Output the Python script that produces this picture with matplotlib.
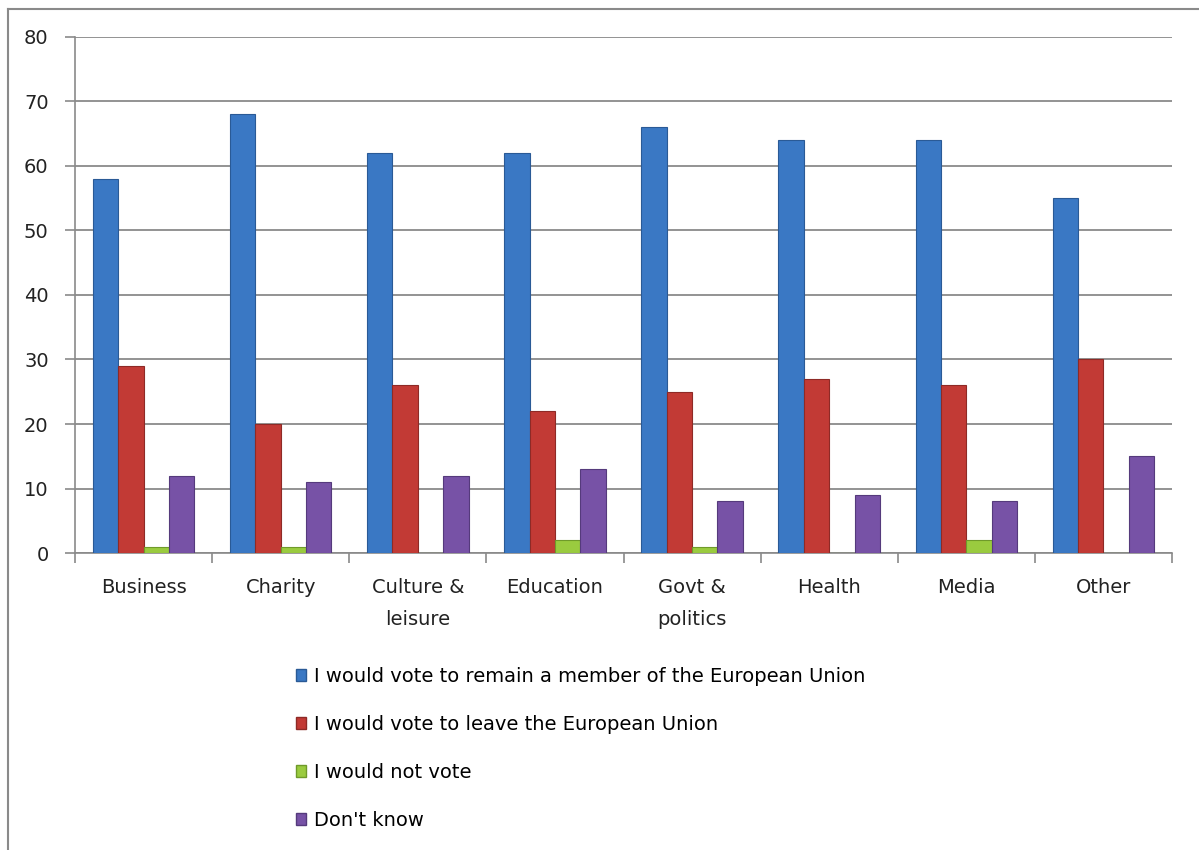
import numpy as np
import matplotlib
matplotlib.use("Agg")
import matplotlib.pyplot as plt
from matplotlib.patches import Patch
from matplotlib.lines import Line2D

plt.rcParams['font.family'] = ['DejaVu Sans']

categories = ["Business", "Charity", "Culture &\nleisure", "Education",
              "Govt &\npolitics", "Health", "Media", "Other"]
remain = [58, 68, 62, 62, 66, 64, 64, 55]
leave = [29, 20, 26, 22, 25, 27, 26, 30]
not_vote = [1, 1, 0, 2, 1, 0, 2, 0]
dont_know = [12, 11, 12, 13, 8, 9, 8, 15]

labels = ["I would vote to remain a member of the European Union",
          "I would vote to leave the European Union",
          "I would not vote",
          "Don't know"]
colors = ["#3a78c4", "#c23a35", "#9acb3f", "#7752a6"]
edges = ["#2a5a96", "#8e2a26", "#6f9a2a", "#553a7c"]

fig = plt.figure(figsize=(11.99, 8.5), dpi=100)
ax = fig.add_axes([0.0626, 0.3494, 0.9149, 0.6071])

x = np.arange(len(categories))
w = 0.185
series = [remain, leave, not_vote, dont_know]
for i, vals in enumerate(series):
    ax.bar(x + (i - 1.5) * w, vals, width=w, color=colors[i],
           edgecolor=edges[i], linewidth=0.8, zorder=3)

ax.set_ylim(0, 80)
ax.set_xlim(-0.5, len(categories) - 0.5)
ax.set_yticks(range(0, 81, 10))
ax.yaxis.grid(True, color="#8a8a8a", linewidth=1.3, zorder=0)
ax.set_xticks(x)
ax.set_xticklabels(categories, fontsize=14, color="#222222", linespacing=1.85)
ax.set_xticks(np.arange(-0.5, len(categories), 1), minor=True)
ax.tick_params(axis="x", which="major", length=0, pad=18)
ax.tick_params(axis="x", which="minor", length=7, color="#8a8a8a", width=1.2)
ax.tick_params(axis="y", length=7, color="#8a8a8a", width=1.2,
               labelsize=14, labelcolor="#222222", pad=12)
for s in ["top", "right"]:
    ax.spines[s].set_visible(False)
for s in ["left", "bottom"]:
    ax.spines[s].set_color("#8a8a8a")
    ax.spines[s].set_linewidth(1.2)

handles = [Patch(facecolor=colors[i], edgecolor=edges[i]) for i in range(4)]
fig.legend(handles, labels, loc="upper left", bbox_to_anchor=(0.240, 0.225),
           frameon=False, fontsize=14, handlelength=0.55, handleheight=0.55,
           handletextpad=0.4, labelspacing=1.5, borderaxespad=0)

# outer chart frame
fig.add_artist(Line2D([0.0067, 0.0067], [0.0, 0.989], color="#8a8a8a", lw=1.5))
fig.add_artist(Line2D([0.0067, 1.0], [0.989, 0.989], color="#8a8a8a", lw=1.5))

fig.savefig("out.png", dpi=100)
